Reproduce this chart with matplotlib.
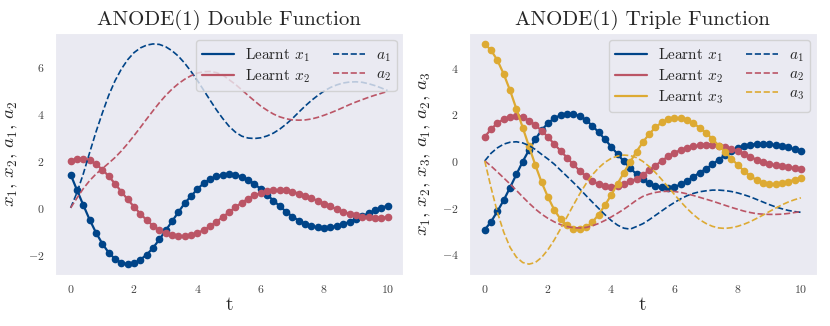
import numpy as np
import matplotlib
matplotlib.use('Agg')
import matplotlib.pyplot as plt
import seaborn as sns

sns.set_style('dark')
plt.rcParams['font.family'] = ['cmr10', 'DejaVu Serif']
plt.rcParams['mathtext.fontset'] = 'cm'
plt.rcParams['axes.formatter.use_mathtext'] = True

blue = '#004488'
red = '#BB5566'
yellow = '#DDAA33'

t = np.linspace(0, 10, 51)

# double function
dbl_x1 = [1.42, 0.76, 0.12, -0.50, -1.05, -1.52, -1.90, -2.17, -2.33, -2.39,
          -2.36, -2.20, -1.99, -1.70, -1.34, -0.96, -0.57, -0.18, 0.20, 0.50,
          0.80, 1.05, 1.22, 1.34, 1.41, 1.44, 1.41, 1.33, 1.20, 1.02,
          0.80, 0.56, 0.31, 0.07, -0.16, -0.37, -0.54, -0.67, -0.77, -0.83,
          -0.84, -0.82, -0.77, -0.69, -0.59, -0.47, -0.35, -0.23, -0.11, 0.0,
          0.10]
dbl_x2 = [2.01, 2.08, 2.09, 2.02, 1.86, 1.63, 1.35, 1.03, 0.69, 0.36,
          0.05, -0.25, -0.52, -0.76, -0.95, -1.08, -1.17, -1.21, -1.21, -1.16,
          -1.07, -0.94, -0.78, -0.59, -0.39, -0.18, 0.03, 0.22, 0.39, 0.53,
          0.64, 0.71, 0.75, 0.76, 0.74, 0.69, 0.61, 0.52, 0.41, 0.30,
          0.18, 0.06, -0.06, -0.16, -0.25, -0.32, -0.37, -0.40, -0.41, -0.41,
          -0.40]
dbl_a1 = [0.0, 0.65, 1.45, 2.35, 3.23, 4.03, 4.78, 5.40, 5.90, 6.30,
          6.60, 6.80, 6.92, 6.97, 6.95, 6.85, 6.68, 6.45, 6.15, 5.80,
          5.42, 5.00, 4.58, 4.17, 3.80, 3.47, 3.22, 3.05, 2.97, 2.95,
          2.98, 3.06, 3.18, 3.35, 3.56, 3.80, 4.07, 4.33, 4.57, 4.78,
          4.97, 5.12, 5.23, 5.31, 5.35, 5.36, 5.34, 5.28, 5.20, 5.10,
          4.99]
dbl_a2 = [0.0, 0.42, 0.82, 1.16, 1.44, 1.67, 1.90, 2.14, 2.42, 2.73,
          3.07, 3.42, 3.78, 4.13, 4.47, 4.78, 5.05, 5.28, 5.47, 5.62,
          5.73, 5.79, 5.80, 5.75, 5.65, 5.45, 5.25, 5.02, 4.78, 4.55,
          4.33, 4.15, 3.99, 3.87, 3.79, 3.74, 3.73, 3.74, 3.78, 3.85,
          3.94, 4.04, 4.15, 4.27, 4.39, 4.50, 4.60, 4.70, 4.79, 4.87,
          4.95]

# triple function
tri_x1 = [-2.95, -2.60, -2.16, -1.68, -1.14, -0.58, -0.03, 0.47, 0.93, 1.32,
          1.62, 1.83, 1.96, 2.02, 2.01, 1.92, 1.75, 1.51, 1.23, 0.93,
          0.61, 0.29, -0.02, -0.31, -0.57, -0.79, -0.96, -1.07, -1.13, -1.15,
          -1.12, -1.00, -0.86, -0.68, -0.50, -0.34, -0.15, 0.05, 0.25, 0.42,
          0.55, 0.65, 0.70, 0.72, 0.72, 0.71, 0.68, 0.64, 0.58, 0.50,
          0.42]
tri_x2 = [1.02, 1.37, 1.61, 1.79, 1.90, 1.93, 1.88, 1.73, 1.53, 1.30,
          1.02, 0.72, 0.43, 0.14, -0.15, -0.42, -0.66, -0.86, -0.99, -1.07,
          -1.10, -1.07, -0.99, -0.88, -0.76, -0.60, -0.40, -0.20, 0.0, 0.20,
          0.35, 0.47, 0.56, 0.62, 0.67, 0.70, 0.70, 0.66, 0.60, 0.53,
          0.42, 0.30, 0.17, 0.05, -0.05, -0.13, -0.19, -0.23, -0.27, -0.30,
          -0.33]
tri_x3 = [5.01, 4.74, 4.31, 3.72, 3.02, 2.23, 1.43, 0.62, -0.18, -0.92,
          -1.55, -2.10, -2.50, -2.76, -2.90, -2.93, -2.84, -2.63, -2.30, -1.90,
          -1.46, -0.98, -0.50, -0.04, 0.40, 0.80, 1.15, 1.44, 1.65, 1.78,
          1.84, 1.83, 1.75, 1.61, 1.42, 1.20, 0.94, 0.66, 0.38, 0.10,
          -0.17, -0.43, -0.65, -0.82, -0.93, -0.99, -1.00, -0.96, -0.89, -0.80,
          -0.73]
tri_a1 = [0.0, 0.33, 0.56, 0.72, 0.80, 0.82, 0.77, 0.66, 0.49, 0.28,
          0.08, -0.14, -0.40, -0.66, -0.92, -1.19, -1.48, -1.76, -2.03, -2.30,
          -2.55, -2.75, -2.88, -2.92, -2.81, -2.69, -2.52, -2.33, -2.14, -1.95,
          -1.78, -1.62, -1.49, -1.39, -1.32, -1.28, -1.25, -1.25, -1.27, -1.31,
          -1.37, -1.45, -1.54, -1.65, -1.76, -1.87, -1.97, -2.05, -2.12, -2.17,
          -2.20]
tri_a2 = [0.0, -0.22, -0.47, -0.73, -0.99, -1.26, -1.54, -1.81, -2.06, -2.28,
          -2.46, -2.61, -2.73, -2.81, -2.86, -2.87, -2.85, -2.78, -2.68, -2.55,
          -2.40, -2.24, -2.07, -1.88, -1.68, -1.52, -1.42, -1.35, -1.31, -1.30,
          -1.31, -1.35, -1.41, -1.48, -1.56, -1.64, -1.72, -1.81, -1.90, -1.99,
          -2.07, -2.15, -2.21, -2.26, -2.28, -2.29, -2.29, -2.28, -2.25, -2.21,
          -2.17]
tri_a3 = [0.0, -1.15, -2.20, -3.05, -3.70, -4.12, -4.35, -4.42, -4.35, -4.13,
          -3.80, -3.38, -2.90, -2.40, -1.90, -1.42, -0.98, -0.60, -0.30, -0.06,
          0.11, 0.21, 0.25, 0.23, 0.14, -0.02, -0.24, -0.50, -0.80, -1.12,
          -1.44, -1.75, -2.04, -2.30, -2.52, -2.68, -2.80, -2.87, -2.89, -2.86,
          -2.80, -2.71, -2.60, -2.46, -2.32, -2.17, -2.02, -1.88, -1.76, -1.66,
          -1.58]

fig = plt.figure(figsize=(8.3, 3.26), dpi=100)
ax1 = fig.add_axes([0.066, 0.156, 0.420, 0.743])
ax2 = fig.add_axes([0.565, 0.156, 0.419, 0.743])


def draw(ax, xs, as_, colors, title, ylabel):
    for i, (x, c) in enumerate(zip(xs, colors)):
        ax.plot(t, x, color=c, lw=1.6, label=r'Learnt $x_%d$' % (i + 1))
        ax.plot(t, x, 'o', color=c, ms=4.5)
    for i, (a, c) in enumerate(zip(as_, colors)):
        ax.plot(t, a, '--', color=c, lw=1.2, label=r'$a_%d$' % (i + 1))
    ax.set_title(title, fontsize=15)
    ax.set_xlabel('t', fontsize=14, labelpad=1)
    ax.set_ylabel(ylabel, fontsize=13.5, labelpad=6)
    ax.set_xticks([0, 2, 4, 6, 8, 10])
    ax.tick_params(axis='x', labelsize=8.5, pad=2, labelcolor='#444444')
    ax.tick_params(axis='y', labelsize=8.5, pad=4, labelcolor='#444444')
    ax.legend(ncol=2, loc='upper right', fontsize=11, handlelength=2.1,
              handletextpad=0.7, columnspacing=1.5, labelspacing=0.25,
              borderaxespad=0.45)


draw(ax1, [dbl_x1, dbl_x2], [dbl_a1, dbl_a2], [blue, red],
     'ANODE(1) Double Function', r'$x_1,\, x_2,\, a_1,\, a_2$')
draw(ax2, [tri_x1, tri_x2, tri_x3], [tri_a1, tri_a2, tri_a3], [blue, red, yellow],
     'ANODE(1) Triple Function', r'$x_1,\, x_2,\, x_3,\, a_1,\, a_2,\, a_3$')
ax1.set_yticks([-2, 0, 2, 4, 6])
ax2.set_yticks([-4, -2, 0, 2, 4])

fig.savefig('out.png', dpi=100)
